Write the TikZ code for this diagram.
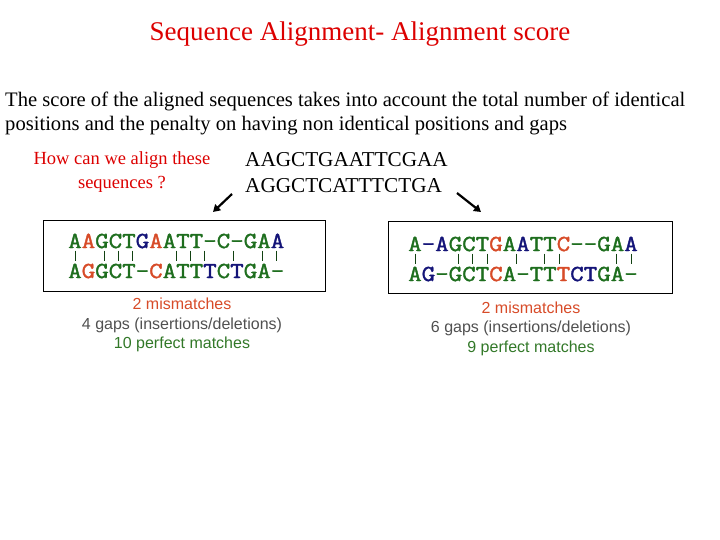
\documentclass[tikz,border=0pt]{standalone}
\usepackage{fontspec}
\setmainfont{Liberation Serif}
\newfontfamily\arial{Liberation Sans}
\newfontfamily\cour{Latin Modern Mono}[FakeStretch=1.14,FakeBold=1.6]
\usetikzlibrary{arrows.meta}
\definecolor{tred}{RGB}{220,0,0}
\definecolor{sg}{RGB}{30,110,30}
\definecolor{sr}{RGB}{215,75,40}
\definecolor{sb}{RGB}{20,20,120}
\definecolor{gtxt}{RGB}{80,80,80}
\definecolor{gstat}{RGB}{50,120,40}
\newcommand{\G}[1]{\textcolor{sg}{#1}}
\newcommand{\R}[1]{\textcolor{sr}{#1}}
\newcommand{\B}[1]{\textcolor{sb}{#1}}
\begin{document}
\begin{tikzpicture}[x=1pt,y=-1pt,
  seq/.style={anchor=west,inner sep=0pt,font=\cour\fontsize{23}{23}\selectfont},
  stat/.style={font=\arial\fontsize{16}{19.5}\selectfont,align=center},
  box/.style={draw,line width=1pt},
  bar/.style={line width=0.8pt,sg!60!black},
  arr/.style={line width=2.2pt,-{Triangle[length=7pt,width=8pt]}}]
\useasboundingbox (0,0) rectangle (720,540);
\node[tred,font=\fontsize{27}{27}\selectfont] (title) at (360,34) {Sequence Alignment- Alignment score};
\node[anchor=north west,align=left,inner sep=0pt,font=\fontsize{20.6}{24}\selectfont] (para) at (5,92) {The score of the aligned sequences takes into account the total number of identical\\positions and the penalty on having non identical positions and gaps};
\node[tred,align=center,font=\fontsize{18.5}{24.5}\selectfont] (q) at (122,172) {How can we align these\\sequences ?};
\node[anchor=west,inner sep=0pt,font=\fontsize{21.2}{21}\selectfont] (s1) at (245,160) {AAGCTGAATTCGAA};
\node[anchor=west,inner sep=0pt,font=\fontsize{21.2}{21}\selectfont] (s2) at (245,186) {AGGCTCATTTCTGA};
\coordinate (a1s) at (232,194); \coordinate (a1e) at (213,212);
\coordinate (a2s) at (457,193); \coordinate (a2e) at (481,212);
\draw[arr] (a1s) -- (a1e);
\draw[arr] (a2s) -- (a2e);
% left box
\node[box,minimum width=282pt,minimum height=70pt,inner sep=0pt] (lb) at (184,256) {};
\node[seq] (l1) at (68,241) {\G{A}\R{A}\G{GCT}\B{G}\R{A}\G{ATT-C-GA}\B{A}};
\node[seq] (l2) at (68,271) {\G{A}\R{G}\G{GCT-}\R{C}\G{ATT}\B{T}\G{C}\B{T}\G{GA-}};
\foreach \i in {1,3,4,5,8,9,10,12,14,15}
  \draw[bar] ({68+(\i-0.5)*14.4},250.5) -- ({68+(\i-0.5)*14.4},261);
\node[stat] (ls) at (182,325) {\textcolor{sr}{2 mismatches}\\\textcolor{gtxt}{4 gaps (insertions/deletions)}\\\textcolor{gstat}{10 perfect matches}};
% right box
\node[box,minimum width=284pt,minimum height=71pt,inner sep=0pt] (rb) at (530,257.5) {};
\node[seq] (r1) at (408,244) {\G{A}\B{-A}\G{GCT}\R{G}\G{A}\B{A}\G{TT}\R{C}\G{--GA}\B{A}};
\node[seq] (r2) at (408,274) {\G{A}\B{G}\G{-GCT}\R{C}\G{A-TT}\R{T}\B{CT}\G{GA-}};
\foreach \i in {1,4,5,6,8,10,11,15,16}
  \draw[bar] ({408+(\i-0.5)*14.4},253.5) -- ({408+(\i-0.5)*14.4},264);
\node[stat] (rs) at (531,328.5) {\textcolor{sr}{2 mismatches}\\\textcolor{gtxt}{6 gaps (insertions/deletions)}\\\textcolor{gstat}{9 perfect matches}};
\end{tikzpicture}
\end{document}
